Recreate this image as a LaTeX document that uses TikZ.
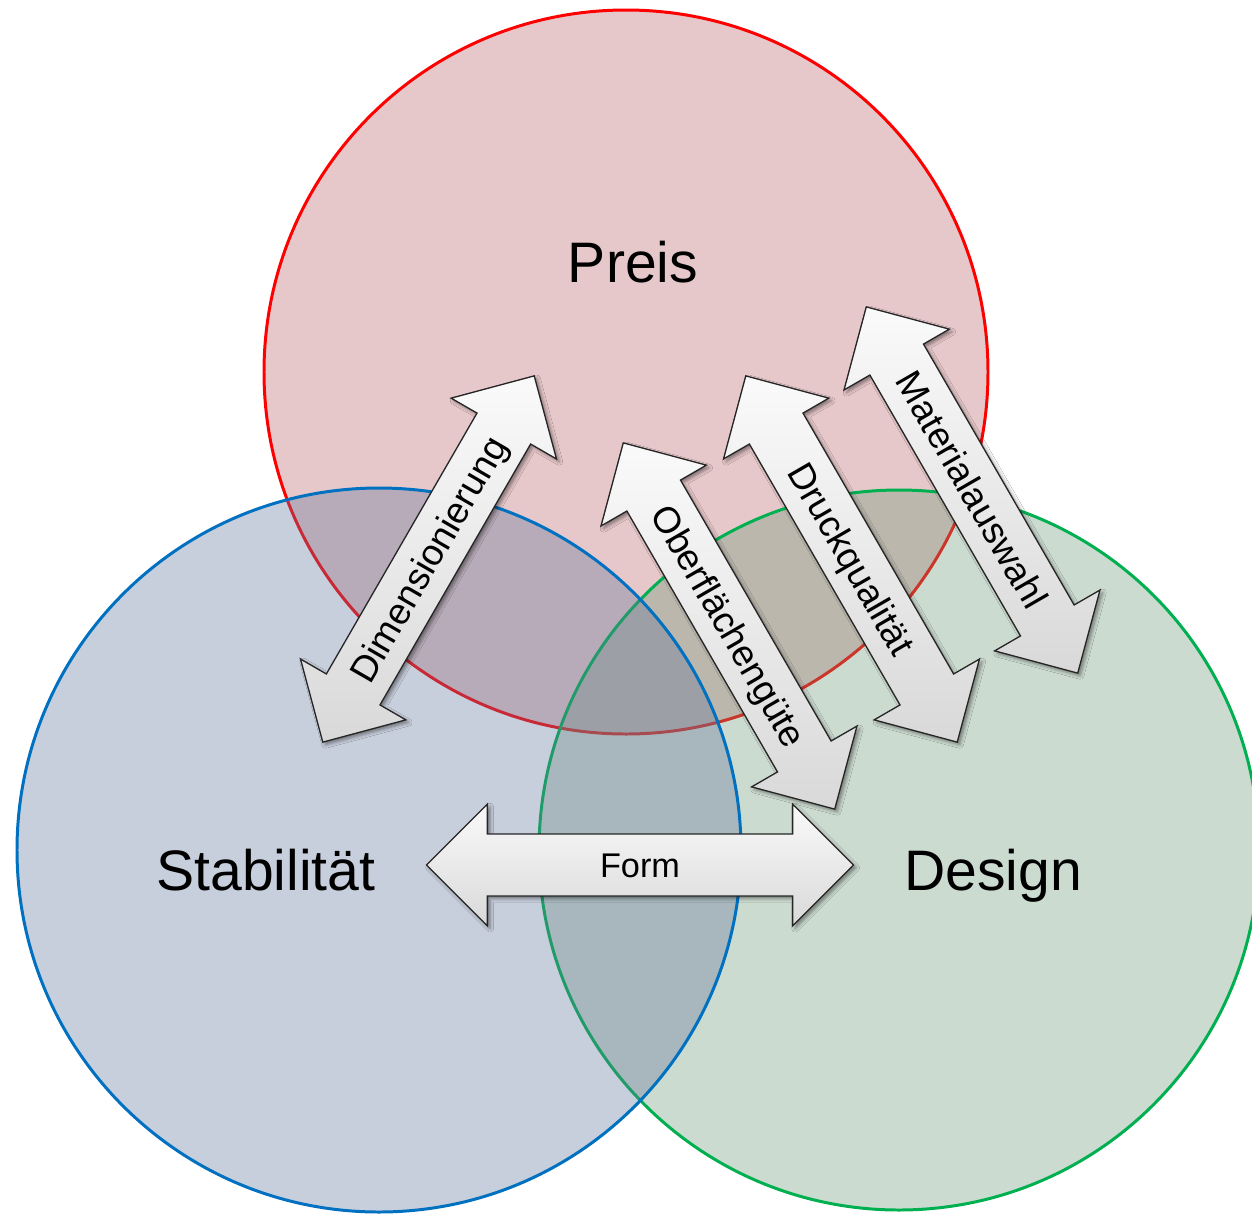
\documentclass[tikz,border=0pt]{standalone}
\usepackage{fontspec}
\setmainfont{Liberation Sans}
\usetikzlibrary{shapes.arrows,shadows.blur}

% outline colours of the three sets
\definecolor{preisline}{HTML}{FF0000}
\definecolor{stabline}{HTML}{0070C0}
\definecolor{designline}{HTML}{00B050}
% fill colours (used with fill opacity)
\definecolor{preisfill}{RGB}{189,98,104}
\definecolor{stabfill}{RGB}{98,118,155}
\definecolor{designfill}{RGB}{109,152,121}

\begin{document}
\begin{tikzpicture}[x=0.02cm,y=-0.02cm,
  setcircle/.style={line width=1.7pt, fill opacity=0.35},
  setlabel/.style={font=\fontsize{32.5}{33}\selectfont, anchor=base, inner sep=0pt},
  blockarrow/.style={shape=double arrow, draw=black!85, line width=0.75pt,
    top color=gray!4, bottom color=gray!30,
    double arrow head extend=17pt, double arrow tip angle=90,
    minimum height=8.46cm, minimum width=0pt,
    inner xsep=0pt, inner ysep=0pt, text height=24.5pt, text depth=10pt,
    font=\fontsize{21}{21}\selectfont,
    blur shadow={shadow xshift=1.5pt, shadow yshift=-1.5pt,
                 shadow blur radius=2pt, shadow opacity=45}}
]
\useasboundingbox (0,0) rectangle (1252,1215);
\clip (0,0) rectangle (1252,1215);
\fill[white] (0,0) rectangle (1252,1215);

% the three sets: Preis, Design, Stabilitaet
\draw[setcircle, draw=preisline, fill=preisfill] (626,372) circle [radius=362];
\draw[setcircle, draw=designline, fill=designfill] (899,850) circle [radius=360];
\draw[setcircle, draw=stabline, fill=stabfill] (379,850) circle [radius=362];

% set names
\node[setlabel] (preis) at (633,282) {Preis};
\node[setlabel] (stab) at (266,890) {Stabilität};
\node[setlabel] (design) at (993,890) {Design};

% relations between the sets
\node[blockarrow, rotate=60] (dim) at (428.5,559) {Dimensionierung};
\node[blockarrow, rotate=-60] (ober) at (729,626) {Oberflächengüte};
\node[blockarrow, rotate=-60] (druck) at (851.5,559) {Druckqualität};
\node[blockarrow, rotate=-60] (mat) at (972,490) {Materialauswahl};
\node[blockarrow, minimum height=8.54cm, font=\fontsize{19.5}{19.5}\selectfont] (form) at (640,865) {Form};
\end{tikzpicture}
\end{document}
